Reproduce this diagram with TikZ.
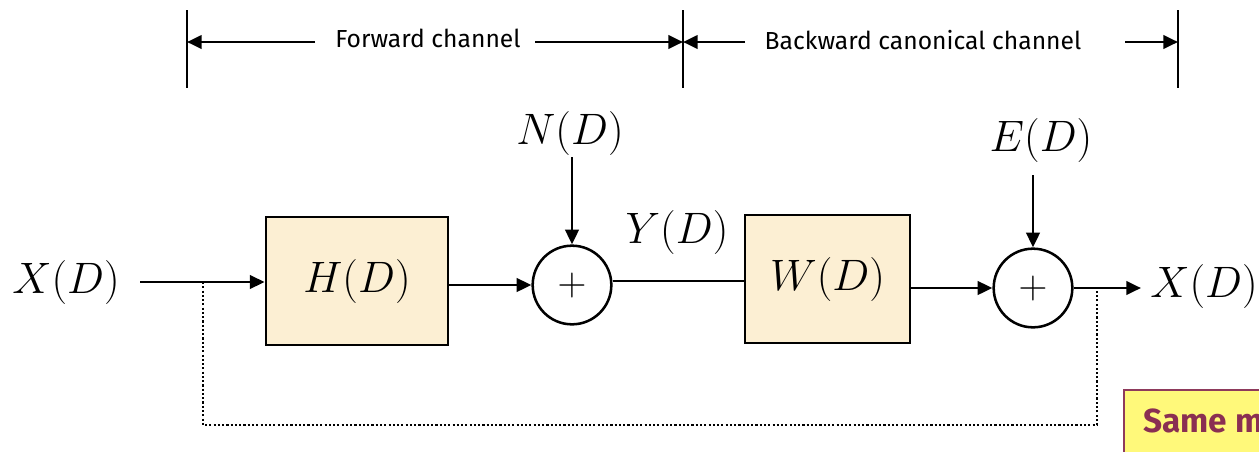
\RequirePackage{fix-cm}
\documentclass[tikz,border=0pt]{standalone}
\usepackage{fontspec}
\setsansfont{Fira Sans}
\usetikzlibrary{arrows.meta}
\definecolor{boxfill}{HTML}{FCEFD3}
\definecolor{notefill}{HTML}{FFF97A}
\definecolor{noteedge}{HTML}{8E3A5C}
\definecolor{notetext}{HTML}{8A2F52}
\tikzset{
  wire/.style={line width=2.1pt},
  arr/.style={wire,-{Triangle[length=11pt,width=10pt]}},
  dimarr/.style={line width=2.1pt,-{Triangle[length=11pt,width=10pt]}},
  tick/.style={line width=1.8pt},
  fb/.style={line width=1.8pt,dash pattern=on 1.6pt off 1.6pt},
  blockbox/.style={draw,line width=2.1pt,fill=boxfill,minimum width=136.5pt,minimum height=96pt,inner sep=0pt},
  sumnode/.style={draw,circle,line width=1.9pt,minimum size=59pt,inner sep=0pt,font=\fontsize{30}{34}\selectfont},
  mathlbl/.style={inner sep=0pt,font=\fontsize{33}{38}\selectfont},
  dimlbl/.style={inner sep=0pt,font=\sffamily\fontsize{18.5}{22}\selectfont},
}
\begin{document}
\begin{tikzpicture}[x=0.75pt,y=-0.75pt]
\useasboundingbox (0,0) rectangle (1259,451);
\clip (0,0) rectangle (1259,451);
% dimension ticks
\coordinate (t1a) at (187,10); \coordinate (t1b) at (187,88);
\coordinate (t2a) at (683,10); \coordinate (t2b) at (683,88);
\coordinate (t3a) at (1178,10); \coordinate (t3b) at (1178,88);
\draw[tick] (t1a) -- (t1b);
\draw[tick] (t2a) -- (t2b);
\draw[tick] (t3a) -- (t3b);
\node[dimlbl] (fwd) at (428,38) {Forward channel};
\node[dimlbl] (bwd) at (923,40) {Backward canonical channel};
\coordinate (d1) at (187,42); \coordinate (d2) at (683,42); \coordinate (d3) at (1178,42);
\coordinate (fl) at (315,42); \coordinate (fr) at (535,42);
\coordinate (bl) at (745,42); \coordinate (br) at (1125,42);
\draw[dimarr] (fl) -- (d1);
\draw[dimarr] (fr) -- (d2);
\draw[dimarr] (bl) -- (d2);
\draw[dimarr] (br) -- (d3);
% blocks
\node[blockbox] (H) at (357,281) {};
\node[mathlbl] at (H.center) {$H(D)$};
\node[blockbox,minimum width=123.75pt] (W) at (827.5,279) {};
\node[mathlbl] at (W.center) {$W(D)$};
\node[sumnode] (s1) at (572,285) {$+$};
\node[sumnode] (s2) at (1033,288) {$+$};
% labels
\node[mathlbl] (xin) at (66,282) {$X(D)$};
\node[mathlbl] (N) at (570,133) {$N(D)$};
\node[mathlbl] (E) at (1041,140) {$E(D)$};
\node[mathlbl] (Y) at (677,232) {$Y(D)$};
\node[mathlbl,anchor=west] (xout) at (1150,286) {$X(D)$};
% wires
\coordinate (xs) at (140,282);
\coordinate (j1) at (203,282);
\coordinate (ns) at (572,157);
\coordinate (es) at (1033,175);
\draw[arr] (xs) -- (H.west |- xs);
\draw[arr] (H.east |- s1) -- (s1.west);
\draw[arr] (s1.north |- ns) -- (s1.north);
\draw[arr] (s2.north |- es) -- (s2.north);
\draw[wire] (s1.east |- 0,281) -- (W.west |- 0,281);
\draw[arr] (W.east |- s2) -- (s2.west);
\coordinate (oe) at (1141,288);
\draw[arr] (s2.east) -- (oe);
\coordinate (j2) at (1097,288);
\draw[fb] (j1) -- (203,425) -- (1097,425) -- (j2);
% note box (clipped)
\node[draw=noteedge,line width=1.2pt,fill=notefill,anchor=north west,minimum width=200pt,minimum height=60pt,inner sep=0pt] (note) at (1123,389) {};
\node[anchor=west,inner sep=0pt,text=notetext,font=\sffamily\bfseries\fontsize{25}{29}\selectfont] (notet) at (1143,421) {Same m};
\end{tikzpicture}
\end{document}
